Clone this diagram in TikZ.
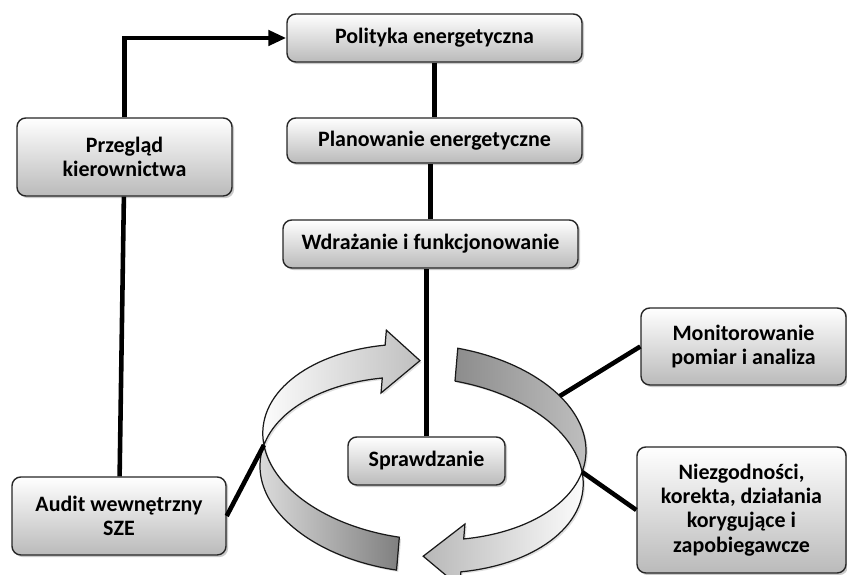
\documentclass[tikz,border=0pt]{standalone}
\usepackage{fontspec}
\setmainfont{Carlito}
\usepackage{tikz}
\usetikzlibrary{shapes,shadows,arrows.meta,calc}

\tikzset{
    stage/.style={draw=black!85, line width=0.8pt, rounded corners=5pt,
        top color=white, bottom color=black!27, inner sep=0pt,
        align=center, font=\bfseries\fontsize{12.5}{13.8}\selectfont,
        drop shadow={shadow xshift=1.2pt, shadow yshift=-1.2pt, opacity=0.35, fill=black!60}},
    link/.style={line width=2.6pt, black},
    ribbon/.style={draw=black!90, line width=0.7pt,
        drop shadow={shadow xshift=1pt, shadow yshift=-1pt, opacity=0.2, fill=black!60}}
}

\begin{document}
\begin{tikzpicture}
        \useasboundingbox (0,0) rectangle (16.94,11.5);

        % Parameters
        \def\ra{3.24}           % horizontal radius of the cycle
        \def\rb{1.95}           % vertical radius of the cycle
        \def\hw{0.33}           % half width of the ribbon
        \def\hh{0.63}           % half width of an arrow head

        % Boxes
        \node[stage, minimum width=5.9cm, minimum height=0.96cm] (pol) at (8.69,10.74) {Polityka energetyczna};
        \node[stage, minimum width=5.9cm, minimum height=0.9cm] (plan) at (8.69,8.69) {Planowanie energetyczne};
        \node[stage, minimum width=5.9cm, minimum height=0.96cm] (wdr) at (8.61,6.62) {Wdrażanie i funkcjonowanie};
        \node[stage, minimum width=4.3cm, minimum height=1.56cm] (prz) at (2.49,8.36) {Przegląd\\kierownictwa};
        \node[stage, minimum width=4.28cm, minimum height=1.56cm] (aud) at (2.38,1.18) {Audit wewnętrzny\\SZE};
        \node[stage, minimum width=3.14cm, minimum height=0.96cm] (spr) at (8.53,2.28) {Sprawdzanie};
        \node[stage, minimum width=4.1cm, minimum height=1.54cm] (mon) at (14.87,4.57) {Monitorowanie\\pomiar i analiza};
        \node[stage, minimum width=4.18cm, minimum height=2.52cm] (nie) at (14.83,1.30) {Niezgodności,\\korekta, działania\\korygujące i\\zapobiegawcze};

        % Cycle
        \begin{scope}[shift={(8.46,2.33)}, rotate=-4.85]
            \coordinate (lx) at ({-\ra*cos(9.74)},0);
            \coordinate (rx) at ({\ra*cos(9.74)},0);
            \coordinate (mx) at ({\ra*cos(36)},{\hw+\rb*sin(36)});
            \coordinate (ltip) at ({\ra*cos(94)},{\rb*sin(94)});
            \coordinate (rtip) at ({\ra*cos(-87)},{\rb*sin(-87)});

            % left arrow, lower part
            \draw[ribbon, left color=black!12, right color=black!50]
                (lx) arc[start angle=170.26, end angle=264, x radius=\ra, y radius=\rb]
                -- ++(0,2*\hw)
                arc[start angle=264, end angle=189.74, x radius=\ra, y radius=\rb] -- cycle;
            % left arrow, upper part
            \draw[ribbon, left color=white, right color=black!25]
                (lx) arc[start angle=189.74, end angle=107, x radius=\ra, y radius=\rb]
                -- ++(0,\hh-\hw) -- (ltip) -- ({\ra*cos(107)},{\rb*sin(107)-\hh}) -- ++(0,\hh-\hw)
                arc[start angle=107, end angle=170.26, x radius=\ra, y radius=\rb] -- cycle;
            % right arrow, upper part
            \draw[ribbon, left color=black!45, right color=black!25]
                ({\ra*cos(81)},{\rb*sin(81)-\hw}) -- ++(0,2*\hw)
                arc[start angle=81, end angle=-9.74, x radius=\ra, y radius=\rb]
                arc[start angle=9.74, end angle=81, x radius=\ra, y radius=\rb] -- cycle;
            % right arrow, lower part
            \draw[ribbon, left color=black!28, right color=white]
                (rx) arc[start angle=-9.74, end angle=-73, x radius=\ra, y radius=\rb]
                -- ++(0,\hh-\hw) -- (rtip) -- ({\ra*cos(-73)},{\rb*sin(-73)-\hh}) -- ++(0,\hh-\hw)
                arc[start angle=-73, end angle=9.74, x radius=\ra, y radius=\rb] -- cycle;
        \end{scope}

        % Links
        \draw[link, -{Triangle[length=3.6mm, width=3mm]}] (prz.north) |- (pol.west);
        \draw[link] (pol) -- (plan);
        \draw[link] (wdr.north) -- (wdr.north |- plan.south);
        \draw[link] (spr.north) -- (spr.north |- wdr.south);
        \draw[link] (prz) -- (aud);
        \draw[link] (aud.east) -- (lx);
        \draw[link] (mon.west) -- (mx);
        \draw[link] (nie.west) -- (rx);
\end{tikzpicture}
\end{document}
